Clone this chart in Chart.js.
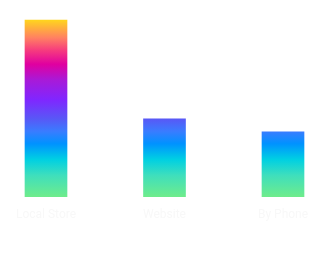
<!DOCTYPE html>
<html>
<head>
<meta charset="utf-8">
<script src="https://cdn.jsdelivr.net/npm/chart.js@4/dist/chart.umd.min.js"></script>
<style>
  html, body { margin: 0; padding: 0; background: #fff; }
  .chart-container { position: relative; width: 325px; height: 253px; }
</style>
</head>
<body>
<div class="chart-container">
  <canvas id="myChart"></canvas>
</div>
<script>
const categories = ["Local Store", "Website", "By Phone"];
const values = [68, 30, 25];
const yMax = 70;

// gradient colours, bottom to top
const gradientStops = [
  [0, "#6eec8c"],
  [0.12, "#3fdfbc"],
  [0.21, "#00d0e2"],
  [0.3, "#0092ff"],
  [0.37, "#3a7cff"],
  [0.44, "#5858f6"],
  [0.55, "#8026ff"],
  [0.66, "#a81ad8"],
  [0.75, "#e000a0"],
  [0.83, "#f63c7e"],
  [0.9, "#ff8062"],
  [1, "#ffd41e"],
];

function barGradient(context) {
  const chart = context.chart;
  const { ctx, chartArea, scales } = chart;
  if (!chartArea) return "#8026ff";
  const bottom = scales.y.getPixelForValue(0);
  const top = scales.y.getPixelForValue(Math.max(...values));
  const g = ctx.createLinearGradient(0, bottom, 0, top);
  gradientStops.forEach(([t, c]) => g.addColorStop(t, c));
  return g;
}

const canvas = document.getElementById("myChart");
const chart = new Chart(canvas, {
  type: "bar",
  data: {
    labels: categories,
    datasets: [
      {
        label: "Sales",
        data: values,
        backgroundColor: barGradient,
        borderWidth: 0,
        barThickness: 42,
        clip: false,
      },
    ],
  },
  options: {
    responsive: true,
    maintainAspectRatio: false,
    animation: false,
    layout: {
      padding: { left: 46, right: 42, top: 15, bottom: 28 },
    },
    scales: {
      x: {
        offset: false,
        grid: { display: false },
        border: { display: false },
        ticks: {
          color: "#f8f8f8",
          font: { family: "Roboto", size: 12 },
          padding: 3,
          maxRotation: 0,
        },
      },
      y: {
        display: false,
        min: 0,
        max: yMax,
      },
    },
    plugins: {
      legend: { display: false },
      tooltip: { enabled: false },
    },
  },
});
</script>
</body>
</html>
